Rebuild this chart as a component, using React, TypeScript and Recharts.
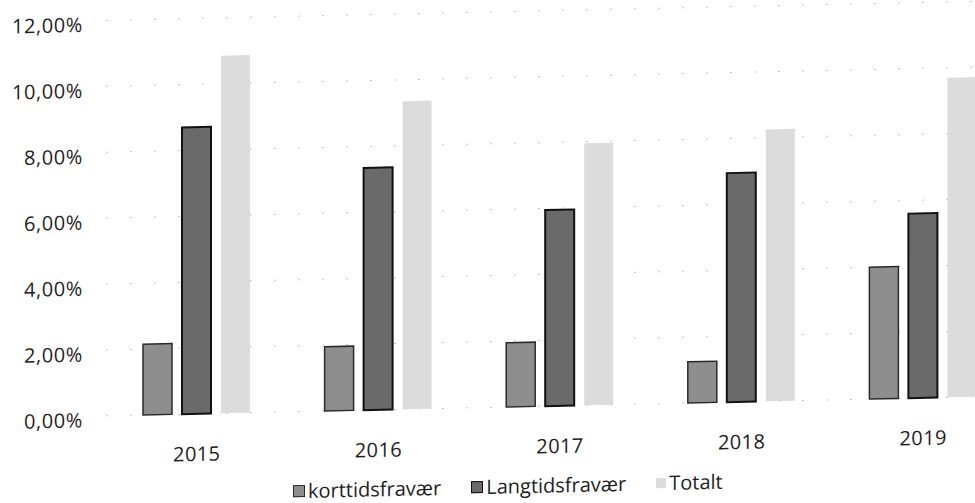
import React from "react";
import { BarChart, Bar, XAxis, YAxis, CartesianGrid, Legend } from "recharts";

const years = ["2015", "2016", "2017", "2018", "2019"];
const korttid = [2.15, 1.95, 1.95, 1.25, 4.0];
const langtid = [8.7, 7.35, 5.95, 6.95, 5.6];
const totalt = [10.85, 9.35, 7.95, 8.25, 9.7];
const yTicks = [0, 2, 4, 6, 8, 10, 12];

const data = years.map((year, i) => ({
  year,
  korttidsfravær: korttid[i],
  Langtidsfravær: langtid[i],
  Totalt: totalt[i],
}));

const font = "'Open Sans', sans-serif";

const series = [
  { key: "korttidsfravær", fill: "#8e8e8e", stroke: "#2a2a2a", strokeWidth: 1.5 },
  { key: "Langtidsfravær", fill: "#6a6a6a", stroke: "#111111", strokeWidth: 2 },
  { key: "Totalt", fill: "#dcdcdc", stroke: "none", strokeWidth: 0 },
];

const fmt = (v: number) => v.toFixed(2).replace(".", ",") + "%";

function YTick(props: any) {
  const { x, y, payload } = props;
  return (
    <text
      x={x}
      y={y + 4}
      dy="0.355em"
      textAnchor="end"
      fill="#1e1e1e"
      fontSize={20}
      letterSpacing={0.6}
      fontFamily={font}
    >
      {fmt(payload.value)}
    </text>
  );
}

function LegendContent() {
  return (
    <div
      style={{
        display: "flex",
        alignItems: "center",
        fontFamily: font,
        fontSize: 20,
        lineHeight: "24px",
        color: "#1e1e1e",
        height: 28,
      }}
    >
      {series.map((s) => (
        <div key={s.key} style={{ display: "flex", alignItems: "center", marginRight: 30 }}>
          <span
            style={{
              display: "inline-block",
              width: 10,
              height: 10,
              background: s.fill,
              border: s.stroke === "none" ? "none" : "1px solid " + s.stroke,
              marginRight: 3,
            }}
          />
          <span>{s.key}</span>
        </div>
      ))}
    </div>
  );
}

export default function App() {
  return (
    <div style={{ position: "fixed", left: 0, top: 0, width: 975, height: 503, overflow: "hidden", background: "#fff" }}>
      <div style={{ transform: "skewY(-1.26deg)", transformOrigin: "487px 0" }}>
        <BarChart
          width={1040}
          height={503}
          data={data}
          margin={{ top: 12, right: 26, left: 10, bottom: 0 }}
          barSize={29}
          barGap={10}
        >
          <CartesianGrid vertical={false} stroke="#c4c4c4" strokeDasharray="2 22" />
          <XAxis
            dataKey="year"
            height={55}
            axisLine={false}
            tickLine={false}
            tickSize={0}
            tickMargin={33}
            tick={{ fill: "#1e1e1e", fontSize: 20, fontFamily: font, letterSpacing: 0.4 }}
          />
          <YAxis
            width={96}
            domain={[0, 12]}
            ticks={yTicks}
            axisLine={false}
            tickLine={false}
            tickSize={0}
            tickMargin={23}
            tick={<YTick />}
          />
          <Legend
            verticalAlign="bottom"
            content={<LegendContent />}
            wrapperStyle={{ left: 293, width: 480, height: 30 }}
          />
          {series.map((s) => (
            <Bar
              key={s.key}
              dataKey={s.key}
              fill={s.fill}
              stroke={s.stroke}
              strokeWidth={s.strokeWidth}
              isAnimationActive={false}
            />
          ))}
        </BarChart>
      </div>
    </div>
  );
}
